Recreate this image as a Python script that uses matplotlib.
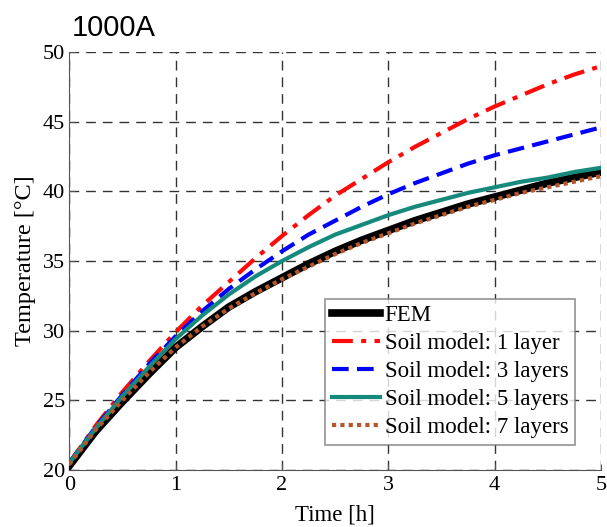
import matplotlib.pyplot as plt

# time [h]
t = [0, 0.25, 0.5, 0.75, 1, 1.25, 1.5, 1.75, 2, 2.25, 2.5, 2.75,
     3, 3.25, 3.5, 3.75, 4, 4.25, 4.5, 4.75, 5]

fem = [20.3, 22.8, 24.9, 26.9, 28.8, 30.3, 31.7, 32.8, 33.8, 34.8, 35.7, 36.5,
       37.2, 37.9, 38.5, 39.1, 39.6, 40.1, 40.6, 41.0, 41.4]
layer1 = [20.5, 23.2, 25.6, 27.8, 29.9, 31.8, 33.5, 35.2, 36.8, 38.3, 39.7, 40.9,
          42.1, 43.2, 44.2, 45.2, 46.1, 46.9, 47.7, 48.4, 49.0]
layer3 = [20.5, 23.1, 25.4, 27.6, 29.6, 31.4, 33.0, 34.4, 35.7, 36.9, 37.9, 38.9,
          39.8, 40.6, 41.3, 42.0, 42.6, 43.1, 43.6, 44.1, 44.6]
layer5 = [20.5, 23.0, 25.3, 27.4, 29.4, 31.1, 32.6, 33.9, 35.0, 36.0, 36.9, 37.6,
          38.3, 38.9, 39.4, 39.9, 40.3, 40.7, 41.0, 41.4, 41.7]
layer7 = [20.4, 22.9, 25.0, 27.0, 28.8, 30.3, 31.6, 32.7, 33.7, 34.6, 35.5, 36.3,
          37.0, 37.7, 38.3, 38.9, 39.4, 39.9, 40.3, 40.7, 41.1]

serif = 'Liberation Serif'

fig = plt.figure(figsize=(6.07, 5.27), dpi=100)
ax = fig.add_axes([0.114, 0.108, 0.876, 0.793])

ax.plot(t, fem, color='black', lw=5.5, label='FEM', zorder=3)
ax.plot(t, layer1, color='#ff0a0a', lw=3, ls=(0, (5, 2, 1.2, 2)), label='Soil model: 1 layer', zorder=4)
ax.plot(t, layer3, color='#0000ff', lw=3, ls=(0, (4, 2)), label='Soil model: 3 layers', zorder=4)
ax.plot(t, layer5, color='#158a7c', lw=3, label='Soil model: 5 layers', zorder=4)
ax.plot(t, layer7, color='#b5572a', lw=3, ls=(0, (1, 1)), label='Soil model: 7 layers', zorder=5)

ax.set_xlim(0, 5)
ax.set_ylim(20, 50)
ax.set_xticks(range(0, 6))
ax.set_yticks(range(20, 51, 5))
ax.grid(True, color='#333333', ls=(0, (7, 5)), lw=1)

ax.spines['top'].set_visible(False)
ax.spines['right'].set_visible(False)
ax.spines['left'].set_color('#555555')
ax.spines['bottom'].set_color('#555555')
ax.tick_params(direction='in', length=4, labelsize=16, color='#555555')
ax.tick_params(axis='x', pad=4)
ax.tick_params(axis='y', pad=3)
for lab in ax.get_xticklabels() + ax.get_yticklabels():
    lab.set_family(serif)

ax.set_xlabel('Time [h]', fontsize=16.5, family=serif, labelpad=7)
ax.set_ylabel('Temperature [°C]', fontsize=17.5, family=serif, labelpad=5)

fig.text(0.118, 0.932, '1000A', fontsize=21, family='Liberation Sans')

leg = ax.legend(loc='lower right', bbox_to_anchor=(0.952, 0.06), prop={'family': serif, 'size': 16.5},
                frameon=True, fancybox=False, edgecolor='#777777', handlelength=2.1,
                handletextpad=0.2, borderpad=0.3, labelspacing=0.3, borderaxespad=0)
leg.get_frame().set_linewidth(1.2)

fig.savefig('out.png', dpi=100)
